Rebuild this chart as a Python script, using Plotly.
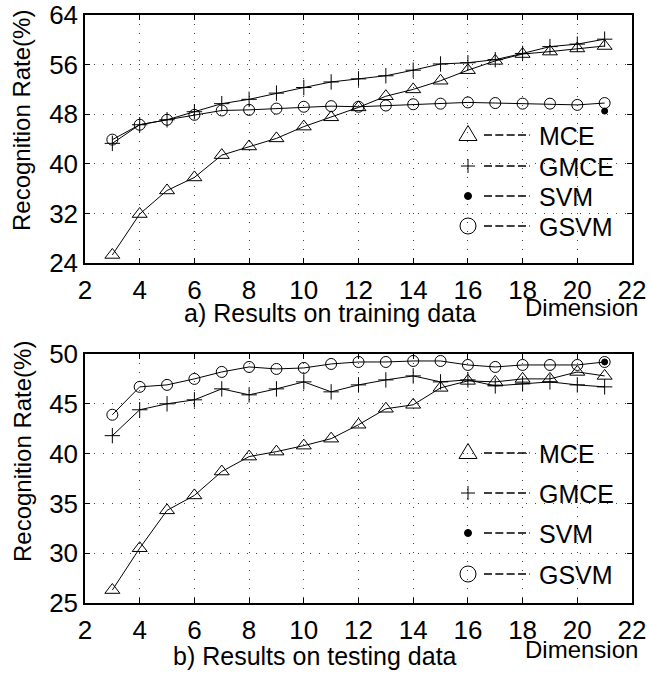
import plotly.graph_objects as go

# ---------------- data ----------------
dims = list(range(3, 22))

train_mce = [25.3, 31.9, 35.7, 37.8, 41.4, 42.8, 44.1, 46.0, 47.5, 49.1, 50.9, 52.0, 53.4, 55.1, 56.6, 57.7, 58.1, 58.6, 59.0]
train_gmce = [43.3, 46.3, 47.1, 48.4, 49.7, 50.4, 51.4, 52.3, 53.2, 53.7, 54.2, 55.1, 56.1, 56.3, 56.8, 57.8, 58.9, 59.3, 60.1]
train_gsvm = [43.9, 46.3, 47.1, 47.9, 48.6, 48.7, 48.9, 49.2, 49.3, 49.2, 49.4, 49.6, 49.7, 49.9, 49.8, 49.7, 49.7, 49.5, 49.8]
train_svm_x = [21]
train_svm = [48.5]

test_mce = [26.3, 30.5, 34.3, 35.8, 38.2, 39.7, 40.2, 40.8, 41.5, 42.9, 44.5, 44.9, 46.6, 47.3, 47.2, 47.5, 47.5, 48.2, 47.8]
test_gmce = [41.8, 44.4, 45.0, 45.4, 46.5, 45.9, 46.5, 47.2, 46.2, 46.9, 47.4, 47.8, 47.2, 47.4, 46.8, 47.0, 47.2, 46.9, 46.7]
test_gsvm = [43.9, 46.7, 46.9, 47.5, 48.2, 48.7, 48.5, 48.6, 49.0, 49.2, 49.2, 49.3, 49.3, 48.9, 48.7, 48.9, 48.9, 48.9, 49.2]
test_svm_x = [21]
test_svm = [49.2]

legend_names = ["MCE", "GMCE", "SVM", "GSVM"]
x_ticks = list(range(2, 23, 2))
top_y_ticks = list(range(24, 65, 8))
bot_y_ticks = list(range(25, 51, 5))

caption_top = "a) Results on training data"
caption_bot = "b) Results on testing data"
x_title = "Dimension"
y_title = "Recognition Rate(%)"

# ---------------- layout constants ----------------
W, H = 649, 677
ML, MR, MT, MB = 85, 17, 15, 74
PW = W - ML - MR
PH = H - MT - MB
FONT = "Liberation Sans, Arial, Helvetica, sans-serif"


def px_x(p):
    return (p - ML) / PW


def px_y(p):
    return (H - MB - p) / PH


top_dom = [px_y(263), px_y(15)]
bot_dom = [px_y(603), px_y(354)]

fig = go.Figure()

line = dict(color="black", width=1)


def add_series(x, y, symbol, size, xa, ya, mode="lines+markers", mcolor="black"):
    fig.add_trace(go.Scatter(
        x=x, y=y, mode=mode, line=line, xaxis=xa, yaxis=ya, showlegend=False,
        hoverinfo="skip",
        marker=dict(symbol=symbol, size=size, color=mcolor,
                    line=dict(color="black", width=1)),
    ))


add_series(dims, train_mce, "triangle-up-open", 13, "x", "y")
add_series(dims, train_gmce, "cross-thin-open", 11, "x", "y")
add_series(dims, train_gsvm, "circle-open", 11, "x", "y")
add_series(train_svm_x, train_svm, "circle", 6, "x", "y", mode="markers")

add_series(dims, test_mce, "triangle-up-open", 13, "x2", "y2")
add_series(dims, test_gmce, "cross-thin-open", 11, "x2", "y2")
add_series(dims, test_gsvm, "circle-open", 11, "x2", "y2")
add_series(test_svm_x, test_svm, "circle", 6, "x2", "y2", mode="markers")

axis_common = dict(
    showline=True, linecolor="black", linewidth=1.5, mirror="ticks",
    ticks="inside", ticklen=5, tickcolor="black", tickwidth=1,
    showgrid=True, gridcolor="#444", gridwidth=1, griddash="1px,8px",
    zeroline=False, automargin=False,
    tickfont=dict(family=FONT, size=26, color="black"),
)

fig.update_layout(
    width=W, height=H,
    margin=dict(l=ML, r=MR, t=MT, b=MB, autoexpand=False),
    paper_bgcolor="white", plot_bgcolor="white",
    font=dict(family=FONT, color="black"),
    xaxis=dict(domain=[0, 1], range=[2, 22], tickvals=x_ticks, anchor="y",
               ticklabelstandoff=3, **axis_common),
    yaxis=dict(domain=top_dom, range=[24, 64], tickvals=top_y_ticks, anchor="x", **axis_common),
    xaxis2=dict(domain=[0, 1], range=[2, 22], tickvals=x_ticks, anchor="y2",
                ticklabelstandoff=3, **axis_common),
    yaxis2=dict(domain=bot_dom, range=[25, 50], tickvals=bot_y_ticks, anchor="x2", **axis_common),
)

ann = []
shapes = []


def text(x, y, s, size=24, xanchor="center", angle=0):
    ann.append(dict(x=px_x(x), y=px_y(y), xref="paper", yref="paper", text=s,
                    showarrow=False, xanchor=xanchor, yanchor="middle", textangle=angle,
                    font=dict(family=FONT, size=size, color="black")))


text(330, 313, caption_top, size=25)
text(581, 307, x_title, size=24)
text(315, 656, caption_bot, size=25)
text(581, 649, x_title, size=24)
text(22, 121, y_title, angle=-90, size=24)
text(22, 452, y_title, angle=-90, size=24)


def legend(rows, mx):
    for name, ry in zip(legend_names, rows):
        if name == "MCE":
            w, h = 18, 15
            path = "M {} {} L {} {} L {} {} Z".format(
                px_x(mx - w / 2), px_y(ry + h / 2 - 2), px_x(mx + w / 2), px_y(ry + h / 2 - 2),
                px_x(mx), px_y(ry - h / 2 - 2))
            shapes.append(dict(type="path", path=path, xref="paper", yref="paper",
                               line=dict(color="black", width=1)))
        elif name == "GMCE":
            s = 7
            shapes.append(dict(type="line", xref="paper", yref="paper", x0=px_x(mx - s), x1=px_x(mx + s),
                               y0=px_y(ry), y1=px_y(ry), line=dict(color="black", width=1)))
            shapes.append(dict(type="line", xref="paper", yref="paper", x0=px_x(mx), x1=px_x(mx),
                               y0=px_y(ry - s), y1=px_y(ry + s), line=dict(color="black", width=1)))
        elif name == "SVM":
            r = 3.5
            shapes.append(dict(type="circle", xref="paper", yref="paper", x0=px_x(mx - r), x1=px_x(mx + r),
                               y0=px_y(ry - r), y1=px_y(ry + r), fillcolor="black",
                               line=dict(color="black", width=1)))
        else:
            r = 8
            shapes.append(dict(type="circle", xref="paper", yref="paper", x0=px_x(mx - r), x1=px_x(mx + r),
                               y0=px_y(ry - r), y1=px_y(ry + r),
                               line=dict(color="black", width=1)))
        shapes.append(dict(type="line", xref="paper", yref="paper", x0=px_x(484), x1=px_x(530),
                           y0=px_y(ry), y1=px_y(ry), line=dict(color="black", width=1.5, dash="8px,3.33px")))
        text(537, ry + 1, name, xanchor="left", size=25)


legend([135, 166, 196, 226], 468)
legend([453, 493, 533, 574], 468)

fig.update_layout(annotations=ann, shapes=shapes)

fig.write_html("out.html", config={"displayModeBar": False},
               post_script="document.body.style.margin='0';document.body.style.padding='0';")
